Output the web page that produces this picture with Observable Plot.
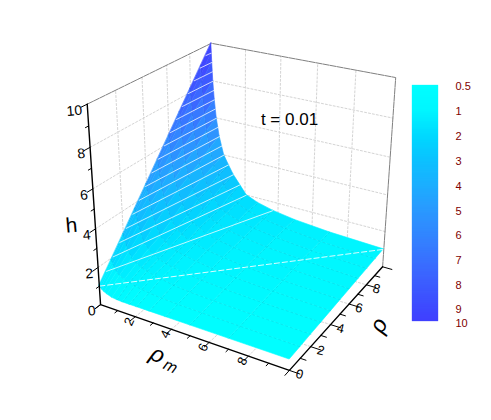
<!DOCTYPE html>
<html><head><meta charset="utf-8">
<script src="https://cdn.jsdelivr.net/npm/d3@7"></script>
<script src="https://cdn.jsdelivr.net/npm/@observablehq/plot@0.6"></script>
<style>html,body{margin:0;padding:0;background:#fff}svg{display:block}</style>
</head><body><div id="chart"></div>
<script>
// --- data ---
const rhoM = [0,.02,.04,.09,.17,.28,.45,.72,1,1.3,1.7,2.1,2.8,3.7,5,7,10];
const rho  = [0,1,2,3,4,5,6,7,8,9,10];
const surfaceH = [
 [1,.98,.96,.91,.85,.77,.69,.6,.57,.55,.55,.55,.55,.55,.55,.55,.55],
 [1.9,1.85,1.78,1.65,1.5,1.3,1.18,1.05,1,.9,.82,.76,.71,.67,.64,.61,.59],
 [2.8,2.7,2.6,2.4,2.15,1.9,1.6,1.4,1.28,1.17,1.08,1,.87,.79,.73,.68,.64],
 [3.7,3.6,3.47,3.2,2.85,2.47,1.98,1.7,1.47,1.33,1.2,1.12,1.02,.91,.82,.74,.685],
 [4.6,4.4,4.25,3.9,3.5,3.05,2.55,1.95,1.7,1.52,1.38,1.28,1.15,1.03,.91,.81,.73],
 [5.5,5.3,5.05,4.65,4.05,3.6,3.05,2.35,1.95,1.75,1.52,1.42,1.27,1.15,1,.87,.775],
 [6.4,6.1,5.9,5.4,4.75,4.05,3.5,2.8,2.25,1.95,1.75,1.52,1.37,1.22,1.08,.94,.82],
 [7.3,7,6.7,6,5.4,4.6,3.85,3.2,2.7,2.2,1.85,1.7,1.45,1.3,1.13,1,.865],
 [8.2,7.85,7.5,6.8,5.9,5.05,4.2,3.5,2.95,2.5,1.95,1.8,1.55,1.37,1.2,1.02,.91],
 [9.1,8.64,8.2,7.4,6.5,5.6,4.65,3.75,3.3,2.8,2.3,1.95,1.68,1.45,1.26,1.06,.955],
 [10,9.5,9,8,7,6,5,4,3.5,3,2.5,2,1.72,1.5,1.3,1.13,1]
];
// white contour lines: level, rho where it leaves rhoM=0, rhoM where it reaches rho=10
const contourLevel = [1,1.5,2,2.5,3,3.5,4,4.5,5,5.5,6,6.5,7,7.5,8,8.5,9,9.5];
const contourRho   = [0,.56,1.11,1.67,2.22,2.78,3.33,3.89,4.44,5,5.56,6.11,6.67,7.22,7.78,8.33,8.89,9.44];
const contourRhoM  = [10,3.7,2.1,1.7,1.3,1,.72,.6,.45,.36,.28,.22,.17,.13,.09,.06,.04,.02];
const colorLevels = [.5,1,2,3,4,5,6,7,8,9,10];
const colorLabels = ["0.5","1","2","3","4","5","6","7","8","9","10"];
const colorStops  = ["#00ffff","#00f6ff","#00daff","#0cc2ff","#1cafff","#2a9aff","#3286ff","#3972ff","#3d5dff","#3f49ff","#4040ff"];
const axisMajor = [2,4,6,8];
const axisMinor = [1,3,5,7,9];
const title = "t = 0.01";

// --- perspective camera calibrated on axis corners and ticks [rhoM, rho, h, px, py] ---
const calib = [
 [0,0,0,100,305],[10,0,0,290,368],[10,10,0,382,267],[0,10,0,213,218],
 [0,0,10,86,104],[0,10,10,211,43],[10,10,10,396,77],
 [0,2,10,115,90],[0,4,10,141,77],[0,6,10,167,64.5],[0,8,10,190,53],
 [2,10,10,245,49],[4,10,10,280,55.6],[6,10,10,317,62.5],[8,10,10,355,69.5],
 [10,10,8,393,117],[10,10,6,389,157],[10,10,4,386,195],[10,10,2,384,231],
 [0,0,8,90,147],[0,0,6,92,190],[0,0,4,95,227],[0,0,2,98,265],
 [2,0,0,135,317],[4,0,0,170,330],[6,0,0,208,342],[8,0,0,247,355],
 [10,2,0,312,346],[10,4,0,330,325],[10,6,0,348,303],[10,8,0,367,285]
];
function solve(A,b){const n=b.length;const M=A.map((r,i)=>[...r,b[i]]);
 for(let i=0;i<n;i++){let p=i;for(let k=i+1;k<n;k++)if(Math.abs(M[k][i])>Math.abs(M[p][i]))p=k;
  [M[i],M[p]]=[M[p],M[i]];
  for(let k=0;k<n;k++){if(k===i)continue;const f=M[k][i]/M[i][i];for(let j=i;j<=n;j++)M[k][j]-=f*M[i][j];}}
 return M.map((r,i)=>r[n]/r[i]);}
const cam=(()=>{const N=Array.from({length:11},()=>new Array(11).fill(0)),R=new Array(11).fill(0);
 const add=(r,t)=>{for(let i=0;i<11;i++){R[i]+=r[i]*t;for(let j=0;j<11;j++)N[i][j]+=r[i]*r[j];}};
 for(const [a,b,c,u0,v0] of calib){const X=a/10,Y=b/10,Z=c/10,u=u0/100,v=v0/100;
  add([X,Y,Z,1,0,0,0,0,-u*X,-u*Y,-u*Z],u);add([0,0,0,0,X,Y,Z,1,-v*X,-v*Y,-v*Z],v);}
 return solve(N,R);})();
function P(a,b,c){const X=a/10,Y=b/10,Z=c/10,w=cam[8]*X+cam[9]*Y+cam[10]*Z+1;
 return [100*(cam[0]*X+cam[1]*Y+cam[2]*Z+cam[3])/w,100*(cam[4]*X+cam[5]*Y+cam[6]*Z+cam[7])/w];}
const seg=(name,pts)=>pts.map(p=>({name,x:P(...p)[0],y:P(...p)[1]}));
function pt(a,b,c){const p=P(a,b,c);return {x:p[0],y:p[1]};}

// --- surface cells, far to near ---
const cells=[];
for(let i=rho.length-2;i>=0;i--)for(let j=0;j<rhoM.length-1;j++){
 const id=i+"-"+j, m=(surfaceH[i][j]+surfaceH[i+1][j]+surfaceH[i][j+1]+surfaceH[i+1][j+1])/4;
 for(const k of [j,j+1]){const p=P(rhoM[k],rho[i],surfaceH[i][k]),q=P(rhoM[k],rho[i+1],surfaceH[i+1][k]);
  cells.push({id,h:m,x1:p[0],y1:p[1],x2:q[0],y2:q[1]});}
}
const mesh=[];
rho.forEach((r,i)=>rhoM.forEach((m,j)=>{if(i>0&&i<10)mesh.push({name:"r"+i,...pt(m,r,surfaceH[i][j])});}));
rhoM.forEach((m,j)=>{if(m>=1&&m<10)rho.forEach((r,i)=>mesh.push({name:"m"+j,...pt(m,r,surfaceH[i][j])}));});

// --- walls, grid, axes ---
let grid=[];
for(const t of axisMajor){
 grid.push(...seg("lw-h"+t,[[0,0,t],[0,10,t]]),...seg("lw-r"+t,[[0,t,0],[0,t,10]]));
 grid.push(...seg("bw-h"+t,[[0,10,t],[10,10,t]]),...seg("bw-m"+t,[[t,10,0],[t,10,10]]));
 grid.push(...seg("f-m"+t,[[t,0,0],[t,10,0]]),...seg("f-r"+t,[[0,t,0],[10,t,0]]));
}
const box=seg("box",[[0,0,10],[0,10,10],[10,10,10],[10,10,0]]);
const axes=[...seg("h",[[0,0,0],[0,0,10]]),...seg("m",[[0,0,0],[10,0,0]]),...seg("r",[[10,0,0],[10,10,0]])];
const tick=[];
const all=[0,...axisMajor,10], len=(t)=>axisMajor.includes(t)||t===0||t===10?1:.55;
for(const t of [...all,...axisMinor]){const l=len(t);
 tick.push(...seg("th"+t,[[0,0,t],[0,-.4*l,t]]),...seg("tm"+t,[[t,0,0],[t,-.4*l,0]]),...seg("tr"+t,[[10,t,0],[10+.5*l,t,0]]));}
const contours=contourLevel.map((L,i)=>{const a=P(0,contourRho[i],L),b=P(contourRhoM[i],10,L);return {L,x1:a[0],y1:a[1],x2:b[0],y2:b[1]};});
const hLabels=[0,2,4,6,8,10].map(t=>({t,p:P(0,0,t)}));
const mLabels=axisMajor.map(t=>({t,p:P(t,0,0)}));
const rLabels=[0,...axisMajor].map(t=>({t,p:P(10,t,0)}));

// --- colour bar ---
const barTop=85, barBottom=321, step=(309-85-25)/8;
const barPos=colorLevels.map((v,i)=>i===0?barTop:i===10?barBottom:barTop+25+(i-1)*step);
const barScale=d3.scaleLinear(colorLevels,barPos);
const barCells=d3.range(barTop,barBottom,2).map(y=>({y1:y,y2:Math.min(y+2,barBottom),v:barScale.invert(y+1)}));

const font="Liberation Sans, Arial, sans-serif";
const chart=Plot.plot({
 width:491,height:420,margin:0,
 x:{domain:[0,491],range:[0,491],axis:null},
 y:{domain:[0,420],range:[0,420],axis:null},
 color:{type:"linear",domain:colorLevels,range:colorStops},
 style:{fontFamily:font,background:"#fff"},
 marks:[
  Plot.line(grid,{x:"x",y:"y",z:"name",stroke:"#d4d4d4",strokeWidth:1,strokeDasharray:"2,2"}),
  Plot.line(box,{x:"x",y:"y",stroke:"#808080",strokeWidth:1,strokeDasharray:"6,1"}),
  Plot.area(cells,{x1:"x1",y1:"y1",x2:"x2",y2:"y2",z:"id",fill:"h",stroke:"h",strokeWidth:.6,curve:"linear"}),
  Plot.line(mesh,{x:"x",y:"y",z:"name",stroke:"#005a80",strokeOpacity:.22,strokeWidth:.6,strokeDasharray:"2,3"}),
  Plot.link(contours.filter(d=>d.L>1),{x1:"x1",y1:"y1",x2:"x2",y2:"y2",stroke:"#fff",strokeOpacity:.75,strokeWidth:1}),
  Plot.link(contours.filter(d=>d.L===1),{x1:"x1",y1:"y1",x2:"x2",y2:"y2",stroke:"#fff",strokeOpacity:.85,strokeWidth:1,strokeDasharray:"6,2"}),
  Plot.line(axes,{x:"x",y:"y",z:"name",stroke:"#000",strokeWidth:1.4}),
  Plot.line(tick,{x:"x",y:"y",z:"name",stroke:"#000",strokeWidth:1}),
  Plot.text(hLabels,{x:d=>d.p[0]-5,y:d=>d.p[1]+6,text:d=>String(d.t),textAnchor:"end",fontSize:14,fill:"#000",rotate:-5}),
  Plot.text(mLabels,{x:d=>d.p[0]-6,y:d=>d.p[1]+5,text:d=>String(d.t),fontSize:13,fill:"#000",rotate:-65}),
  Plot.text(rLabels,{x:d=>d.p[0]+10,y:d=>d.p[1]+4,text:d=>String(d.t),fontSize:13,fill:"#000",rotate:14}),
  Plot.text(["h"],{x:()=>71,y:()=>225,text:d=>d,fontSize:21,fill:"#000",rotate:-5}),
  Plot.text(["ρ"],{x:()=>157,y:()=>354,text:d=>d,fontSize:23,fontStyle:"italic",fill:"#000",rotate:25}),
  Plot.text(["m"],{x:()=>170,y:()=>366,text:d=>d,fontSize:16,fontStyle:"italic",fill:"#000",rotate:25}),
  Plot.text(["ρ"],{x:()=>378,y:()=>325,text:d=>d,fontSize:23,fontStyle:"italic",fill:"#000",rotate:-65}),
  Plot.text([title],{x:()=>289,y:()=>119,text:d=>d,fontSize:17,fill:"#000"}),
  Plot.rect(barCells,{x1:()=>412,x2:()=>438,y1:"y1",y2:"y2",fill:"v",stroke:"v",strokeWidth:.3}),
  Plot.text(colorLabels,{x:()=>455,y:(d,i)=>barPos[i]+(i===9?-1:i===10?1:0)+1,text:d=>d,textAnchor:"start",fontSize:11,fill:"#800000"})
 ]
});
document.getElementById("chart").append(chart);
</script></body></html>
